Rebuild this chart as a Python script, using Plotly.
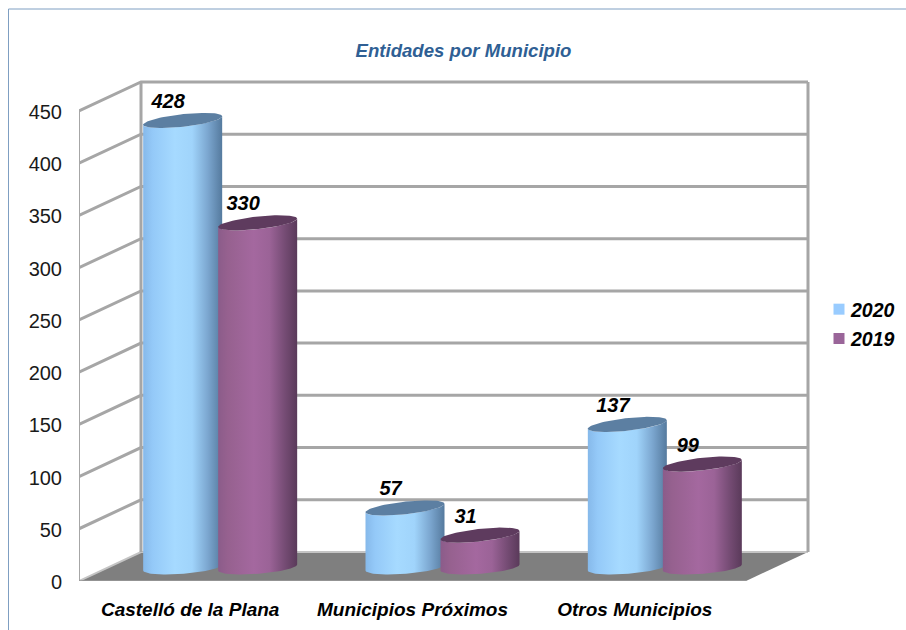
import numpy as np
import plotly.graph_objects as go

categories = ["Castelló de la Plana", "Municipios Próximos", "Otros Municipios"]
values_2020 = [428, 57, 137]
values_2019 = [330, 31, 99]
y_ticks = [0, 50, 100, 150, 200, 250, 300, 350, 400, 450]
title_text = "Entidades por Municipio"

W, H = 906, 630
L, FR, TOP450, B = 79, 746, 111, 581   # front plane of the box, in page pixels
R, T = 812, 76                         # plot area extends to contain the depth of the box
px_x = 3 / (FR - L)          # category units per pixel
px_y = 450 / (B - TOP450)    # value units per pixel
DX, DY = 62 * px_x, 29 * px_y   # depth of the box
FONT = "Liberation Sans"
GREY = "#a6a6a6"

fig = go.Figure()


def line(xs, ys, width=3, color=GREY):
    fig.add_trace(go.Scatter(x=xs, y=ys, mode="lines", showlegend=False,
                             hoverinfo="skip", line=dict(color=color, width=width)))


x0, x1 = -0.5, 2.5
# floor
fig.add_trace(go.Scatter(x=[x0, x1, x1 + DX, x0 + DX, x0], y=[0, 0, DY, DY, 0], mode="lines",
                         fill="toself", fillcolor="#7f7f7f", line=dict(width=0),
                         showlegend=False, hoverinfo="skip"))
# walls
for t in y_ticks[1:]:
    line([x0, x0 + DX, x1 + DX], [t, t + DY, t + DY])
line([x0, x0 + DX, x1 + DX], [0, DY, DY], width=2, color="#c4c4c4")
line([x0 + DX, x0 + DX], [DY, 450 + DY])
line([x1 + DX, x1 + DX], [DY, 450 + DY])
line([x0, x0], [0, 450], width=2)
line([x0, x1], [0, 0], width=1.5, color="#9a9a9a")


def cylinder(cx, value, side_stops, top_color):
    rx = 39.5 * px_x
    ry = 6.3 * px_y
    k_top, k_base = 4.2 * px_y, 3.0 * px_y
    base = DY / 2 - 1 * px_y
    t = np.linspace(0, np.pi, 60)
    bx = cx + rx * np.cos(-t)
    by = base + ry * np.sin(-t) + k_base * np.cos(-t)
    top_y = base + value
    tt = np.linspace(np.pi, 0, 60)
    ux = cx + rx * np.cos(tt)
    uy = top_y - ry * np.sin(tt) + k_top * np.cos(tt)
    fig.add_trace(go.Scatter(x=np.r_[bx, ux, bx[:1]], y=np.r_[by, uy, by[:1]], mode="lines", fill="toself",
                             fillgradient=dict(type="horizontal", colorscale=side_stops),
                             line=dict(width=0), showlegend=False, hoverinfo="skip"))
    a = np.linspace(0, 2 * np.pi, 90)
    fig.add_trace(go.Scatter(x=cx + rx * np.cos(a), y=top_y + ry * np.sin(a) + k_top * np.cos(a),
                             mode="lines", fill="toself", fillcolor=top_color, line=dict(width=0),
                             showlegend=False, hoverinfo="skip"))


blue = [[0, "#86b9ea"], [0.12, "#94c9f8"], [0.4, "#a6daff"], [0.62, "#a0d4fb"],
        [0.82, "#7ba6cf"], [1, "#557a9e"]]
purple = [[0, "#8b5c8a"], [0.12, "#96618f"], [0.45, "#a4689f"], [0.65, "#9b6397"],
          [0.85, "#744b73"], [1, "#5a3a5a"]]
off = 37.5 * px_x
shift = DX / 2 - 1 * px_x
for g in range(3):
    cx = g + shift
    cylinder(cx - off, values_2020[g], blue, "#5c7fa2")
    cylinder(cx + off, values_2019[g], purple, "#5e3b5e")

for name, vals, sgn in (("2020", values_2020, -1), ("2019", values_2019, 1)):
    xs = [g + shift + sgn * off - 14.5 * px_x for g in range(3)]
    ys = [v + DY / 2 - 1 * px_y + 17.5 * px_y for v in vals]
    fig.add_trace(go.Scatter(x=xs, y=ys, mode="text", text=[str(v) for v in vals],
                             textfont=dict(family=FONT, size=20, color="#000000", style="italic", weight="bold"),
                             showlegend=False, hoverinfo="skip"))

for name in ("2020", "2019"):
    fig.add_trace(go.Scatter(x=[None], y=[None], mode="markers", name=name, legendgroup=name,
                             marker=dict(symbol="square", size=11,
                                         color="#99ccff" if name == "2020" else "#9a6599")))


def px(x):
    return (x - L) / (R - L)


def py(y):
    return (B - y) / (B - T)


frame = "#7f9fc2"
fig.update_layout(
    width=W, height=H, autosize=False,
    margin=dict(l=L, r=W - R, t=T, b=H - B, autoexpand=False),
    paper_bgcolor="white", plot_bgcolor="rgba(0,0,0,0)",
    title=dict(text=title_text, x=(355 + 572) / 2 / W, xanchor="center", y=1 - 50 / H, yanchor="middle",
               font=dict(family=FONT, size=18.6, color="#2f5f94", style="italic", weight="bold")),
    xaxis=dict(range=[x0, x0 + (R - L) * px_x], tickmode="array", tickvals=[0, 1, 2], ticktext=categories,
               showgrid=False, zeroline=False, showline=False, ticks="", ticklabelstandoff=15,
               tickfont=dict(family=FONT, size=19, color="#000000", style="italic", weight="bold")),
    yaxis=dict(range=[0, (B - T) * px_y], tickmode="array", tickvals=y_ticks, showgrid=False, zeroline=False,
               showline=False, ticks="", ticklabelstandoff=16, ticklabelshift=1,
               tickfont=dict(family=FONT, size=20, color="#1a1a1a")),
    legend=dict(x=px(811), xanchor="left", y=py(324), yanchor="middle", tracegroupgap=1,
                font=dict(family=FONT, size=19.5, color="#000000", style="italic", weight="bold"),
                bgcolor="rgba(0,0,0,0)", itemwidth=30),
    shapes=[
        dict(type="line", xref="paper", yref="paper", x0=px(8.5), x1=px(8.5), y0=py(9), y1=py(630),
             line=dict(color=frame, width=1)),
        dict(type="line", xref="paper", yref="paper", x0=px(8.5), x1=px(906), y0=py(9), y1=py(9),
             line=dict(color=frame, width=1)),
    ],
)
fig.write_html("out.html",
               post_script="document.body.style.margin='0';"
                           "document.querySelectorAll('.legendsymbols').forEach(n=>n.setAttribute('transform','translate(8,0)'));",
               config=dict(displayModeBar=False))
